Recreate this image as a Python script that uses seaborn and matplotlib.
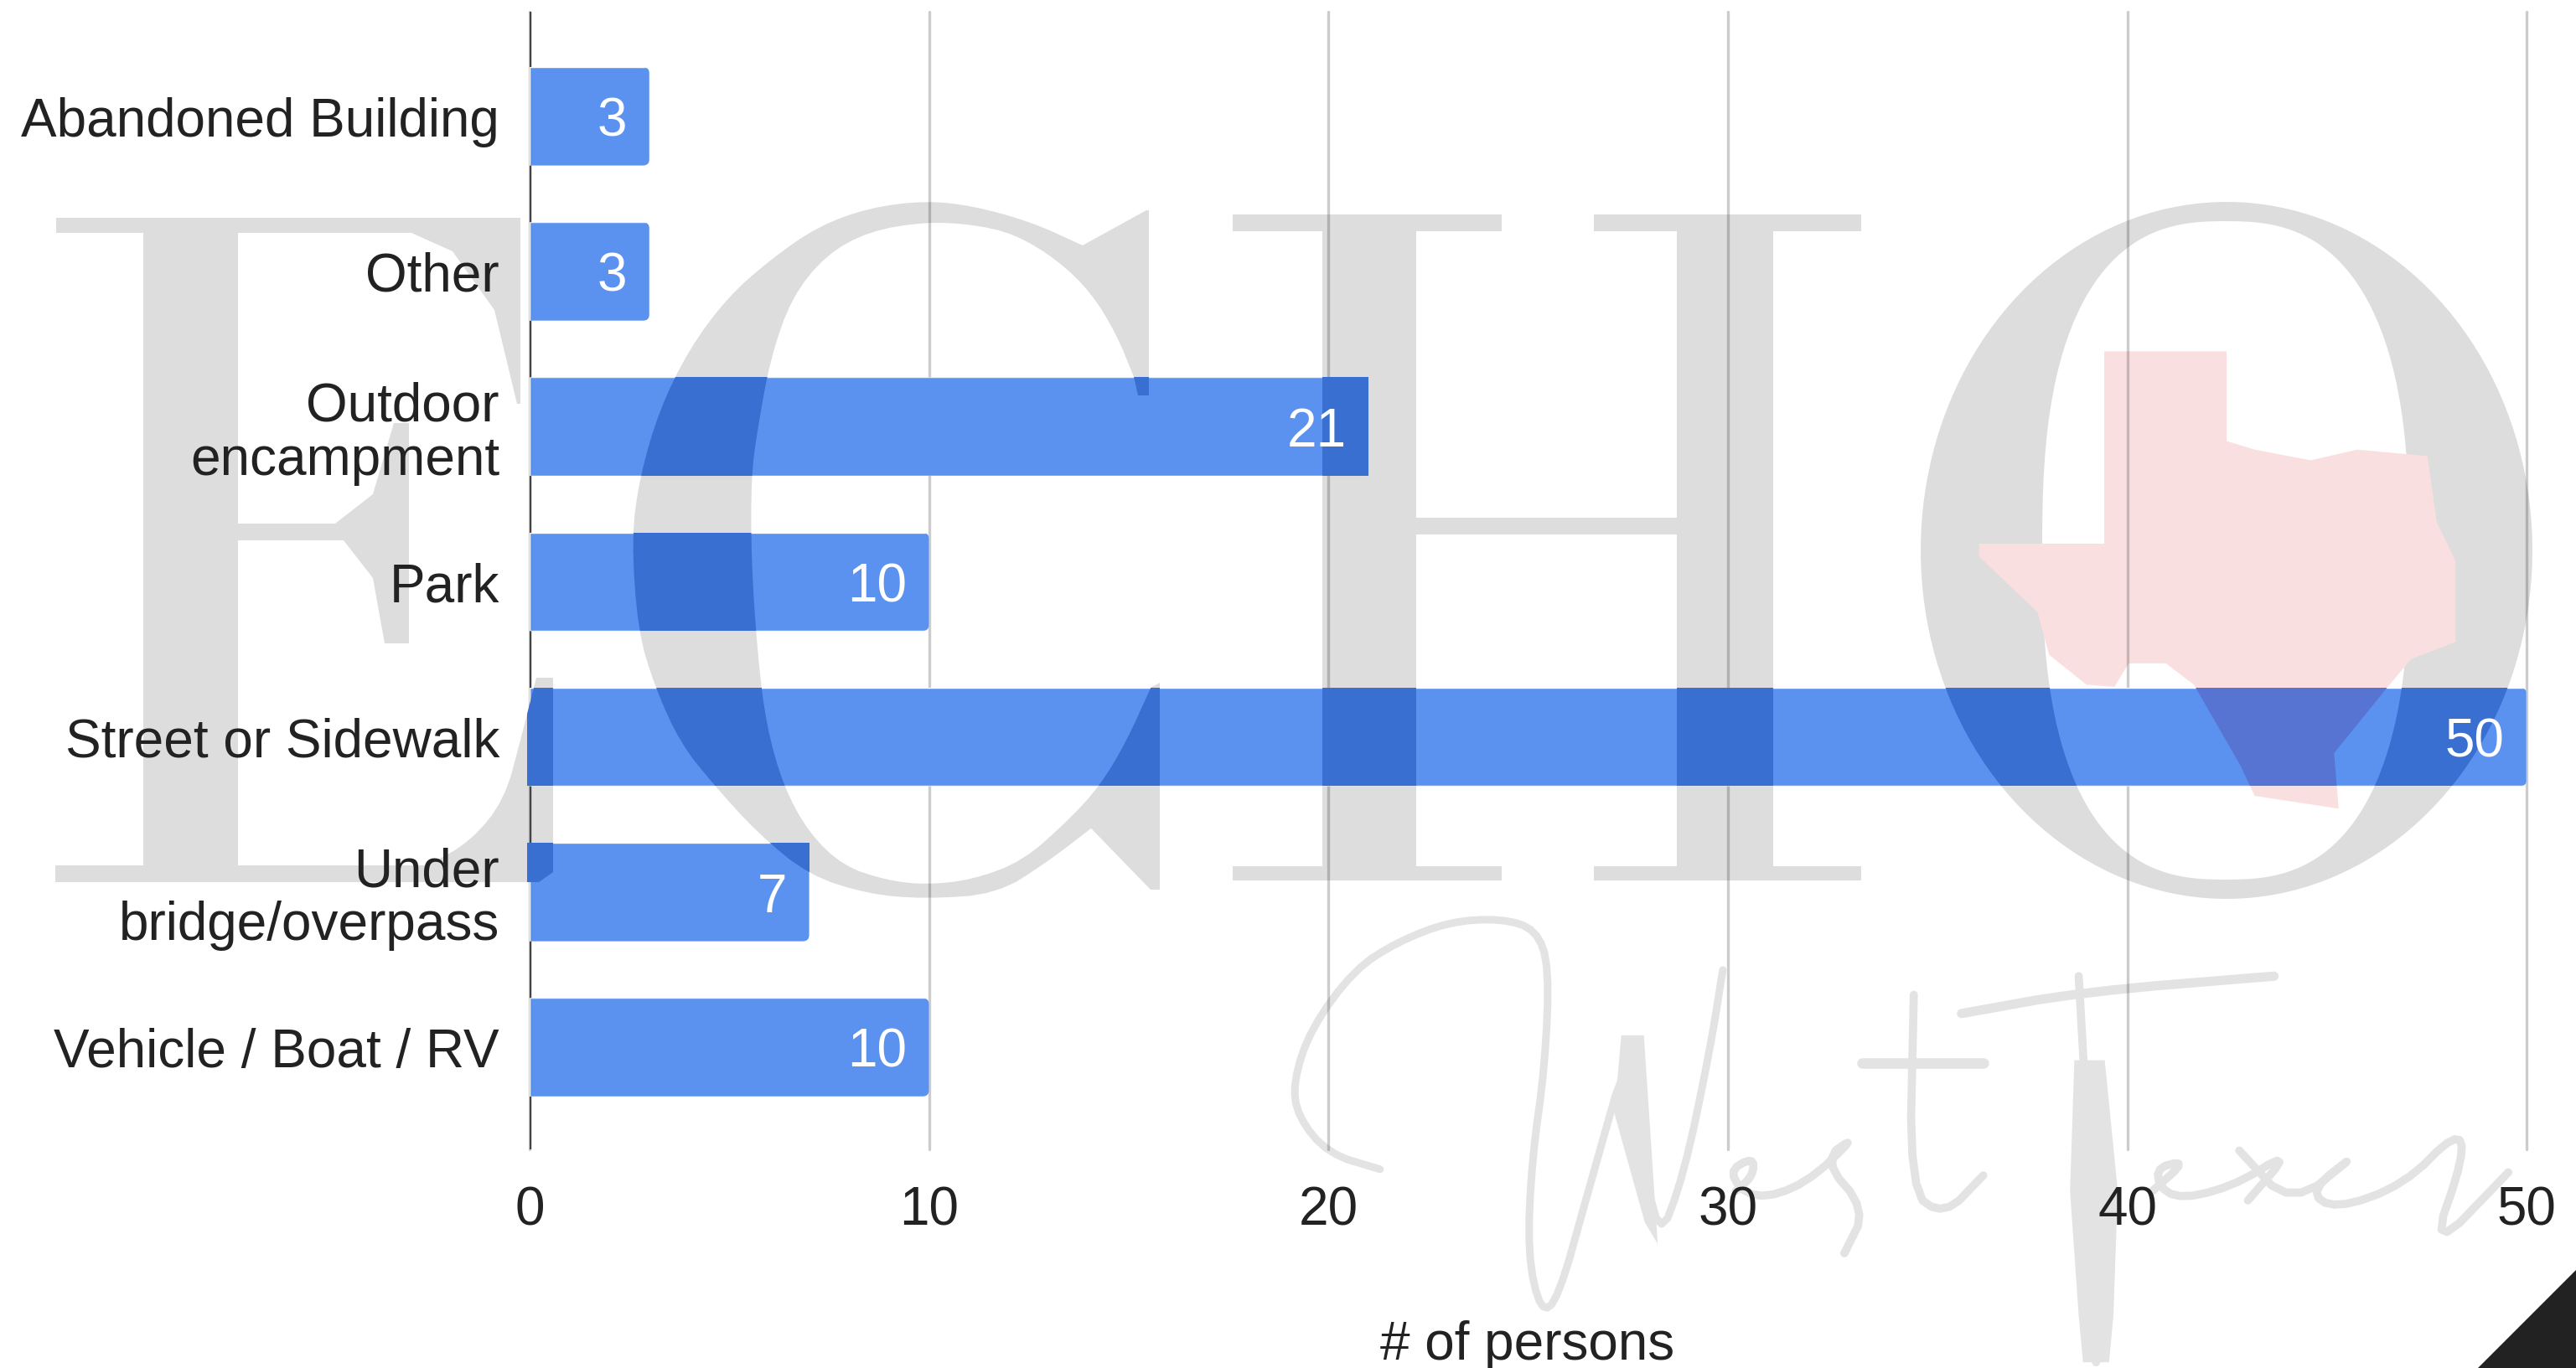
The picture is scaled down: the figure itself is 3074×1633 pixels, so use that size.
import numpy as np
import pandas as pd
import seaborn as sns
import matplotlib.pyplot as plt
from matplotlib.patches import FancyBboxPatch, PathPatch, Polygon, Rectangle
from matplotlib.path import Path
from matplotlib.transforms import IdentityTransform

W, H = 3074, 1633

categories = ["Abandoned Building", "Other", "Outdoor\nencampment", "Park",
              "Street or Sidewalk", "Under\nbridge/overpass", "Vehicle / Boat / RV"]
persons = [3, 3, 21, 10, 50, 7, 10]
x_ticks = [0, 10, 20, 30, 40, 50]

BLUE = "#5b92ef"
TEXT = "#222222"

sns.set_theme(style="white")
plt.rcParams["font.family"] = ["Liberation Sans", "DejaVu Sans"]

fig = plt.figure(figsize=((W + 0.2) / 100, (H + 0.2) / 100), dpi=100, facecolor="white")
ax = fig.add_axes([632 / W, 1 - 1372 / H, (3015 - 632) / W, (1372 - 14) / H])
ax.patch.set_visible(False)

df = pd.DataFrame({"place": categories, "persons": persons})
sns.barplot(data=df, y="place", x="persons", orient="h", color=BLUE, saturation=1,
            width=0.635, ax=ax, zorder=1)
bars = list(ax.patches)

ax.set_xlim(0, 50)
ax.set_ylim(6.658, -0.675)
ax.set_xticks(x_ticks)
ax.set_axisbelow(True)
ax.grid(axis="x", color="black", alpha=0.2, lw=2.4)
for l in ax.get_xgridlines():
    l.set_clip_on(False)
ax.set_ylabel("")
ax.set_xlabel("# of persons", fontsize=46, color=TEXT, labelpad=0)
ax.xaxis.set_label_coords(0.4995, -0.150)
ax.tick_params(axis="y", length=0, pad=26, labelsize=46, labelcolor=TEXT)
ax.tick_params(axis="x", length=0, pad=31, labelsize=46, labelcolor=TEXT)
for lab in ax.get_yticklabels():
    lab.set_linespacing(1.08)
sns.despine(ax=ax, left=True, bottom=True)
ax.axvline(0, color="#444444", lw=2.4, zorder=0.6)

# value labels inside the bars
for bar, v in zip(bars, persons):
    ax.annotate(str(v), (v, bar.get_y() + bar.get_height() / 2), xytext=(-19, 0),
                textcoords="offset points", ha="right", va="center_baseline",
                color="white", fontsize=46, zorder=3)


# watermark: everything below is in pixels measured from the top left
def chaikin(pts, n=2):
    pts = np.array(pts, dtype=float)
    for _ in range(n):
        q = 0.75 * pts[:-1] + 0.25 * pts[1:]
        r = 0.25 * pts[:-1] + 0.75 * pts[1:]
        mid = np.empty((2 * len(q), 2))
        mid[0::2] = q
        mid[1::2] = r
        pts = np.vstack([pts[0], mid, pts[-1]])
    return pts


def shape(pts):
    pts = np.array(pts, dtype=float)
    pts = np.column_stack([pts[:, 0], H - pts[:, 1]])
    return Path(np.vstack([pts, pts[0]]), closed=True)


def crop(pts, x0, y0, sx, sy):
    pts = np.array(pts, dtype=float)
    return np.column_stack([x0 + pts[:, 0] / sx, y0 + pts[:, 1] / sy])


e_curve = chaikin([(510, 1033), (561, 1005), (602, 955), (622, 880), (640, 809)])
e_path = shape([(67, 260), (621, 260), (621, 482), (617, 482), (590, 370), (540, 300), (491, 278),
                (284, 278), (284, 625), (400, 625), (445, 590), (470, 505), (488, 505), (488, 768),
                (459, 768), (445, 690), (410, 645), (284, 645), (284, 1033)]
               + [tuple(p) for p in e_curve]
               + [(660, 809), (660, 1041), (643, 1053), (66, 1053), (66, 1033), (171, 1033),
                  (171, 278), (67, 278)])

c_outer = crop([(1160, 130), (1040, 80), (900, 45), (790, 35), (660, 50), (540, 90), (430, 160),
                (330, 240), (240, 350), (170, 480), (125, 620), (105, 750), (120, 950), (160, 1070),
                (220, 1190), (300, 1280), (400, 1380), (520, 1470), (660, 1510), (790, 1520),
                (960, 1510), (1080, 1440), (1180, 1370)], 700, 220, 1.96, 1.782)
c_inner = crop([(1320, 1070), (1260, 1190), (1200, 1280), (1130, 1350), (1020, 1440), (900, 1480),
                (790, 1490), (700, 1480), (600, 1450), (520, 1380), (460, 1280), (420, 1150),
                (400, 1000), (385, 800), (385, 620), (400, 520), (430, 370), (480, 240), (560, 150),
                (660, 100), (790, 80), (900, 85), (1000, 105), (1100, 160), (1180, 230), (1240, 320),
                (1280, 410)], 700, 220, 1.96, 1.782)
c_path = shape([tuple(p) for p in chaikin(c_outer)]
               + [(1373, 1062), (1384, 1062), (1384, 815)]
               + [tuple(p) for p in chaikin(c_inner)]
               + [(1358, 472), (1371, 472), (1371, 251), (1368, 251)])

h_path = shape([(1471, 256), (1792, 256), (1792, 276), (1690, 276), (1690, 618), (2001, 618), (2001, 276),
                (1902, 276), (1902, 256), (2221, 256), (2221, 276), (2116, 276), (2116, 1034), (2221, 1034),
                (2221, 1051), (1902, 1051), (1902, 1034), (2001, 1034), (2001, 638), (1690, 638),
                (1690, 1034), (1792, 1034), (1792, 1051), (1471, 1051), (1471, 1034), (1578, 1034),
                (1578, 276), (1471, 276)])

# O: ellipse outside, squarer curve inside
t = np.linspace(0, 2 * np.pi, 160)
o_out = np.column_stack([2657 + 365 * np.cos(t), 657 + 416 * np.sin(t)])
o_in = np.column_stack([2656 + 219 * np.sign(np.cos(t[::-1])) * np.abs(np.cos(t[::-1])) ** (2 / 2.6),
                        657 + 393 * np.sign(np.sin(t[::-1])) * np.abs(np.sin(t[::-1])) ** (2 / 2.6)])
o_path = Path.make_compound_path(shape(o_out), shape(o_in))

texas_crop = [(558, 430), (820, 430), (820, 640), (880, 660), (1000, 685), (1100, 660), (1250, 675),
              (1270, 830), (1310, 920), (1310, 1110), (1215, 1150), (1165, 1215), (1050, 1370),
              (1060, 1500), (880, 1470), (850, 1400), (750, 1210), (690, 1160), (610, 1160),
              (580, 1215), (520, 1210), (440, 1140), (415, 1040), (290, 910), (290, 880), (558, 880)]
texas_path = shape(crop(texas_crop, 2200, 200, 1.794, 1.96))

marks = [(e_path, "#dddddd", "#386fd0", 0), (c_path, "#dddddd", "#386fd0", 0), (h_path, "#dddddd", "#386fd0", 0),
         (o_path, "#dddddd", "#386fd0", 0), (texas_path, "#fadfe0", "#5874d2", 0.1)]
for path, color, dark, z in marks:
    ax.add_patch(PathPatch(path, fc=color, ec="none", transform=IdentityTransform(),
                           clip_on=False, zorder=0.1 + z))
    # same shape again, only where it falls on a bar
    for bar in bars:
        (bx0, by0), (bx1, by1) = ax.transData.transform([(bar.get_x(), bar.get_y()),
                                                         (bar.get_x() + bar.get_width(), bar.get_y() + bar.get_height())])
        clip = Rectangle((bx0 - 3, min(by0, by1)), bx1 - bx0 + 3, abs(by1 - by0), transform=IdentityTransform())
        over = PathPatch(path, fc=dark, ec="none", transform=IdentityTransform(), zorder=1.5 + z)
        ax.add_artist(over)
        over.set_clip_path(clip)

# round the right end of the bars
for bar in bars:
    (bx0, by0), (bx1, by1) = ax.transData.transform([(bar.get_x(), bar.get_y()),
                                                     (bar.get_x() + bar.get_width(), bar.get_y() + bar.get_height())])
    bar.set_clip_path(FancyBboxPatch((bx0 - 30, min(by0, by1)), bx1 - bx0 + 30, abs(by1 - by0),
                                     boxstyle="round,pad=0,rounding_size=8", transform=IdentityTransform()))

strokes = [
    ([(190, 930), (130, 880), (95, 760), (90, 650), (110, 480), (160, 290), (210, 200), (270, 135), (330, 125),
      (370, 160), (385, 280), (380, 600), (365, 900), (360, 1200), (375, 1390), (395, 1350), (430, 1000),
      (480, 510), (490, 800), (510, 1170), (540, 950), (570, 550), (585, 290)], 6.5),
    ([(600, 1000), (620, 950), (620, 890), (590, 940), (620, 1030), (680, 980), (740, 820), (700, 900),
      (750, 1060), (725, 1200)], 7),
    ([(805, 370), (800, 1000), (840, 1080), (885, 950)], 7),
    ([(745, 590), (885, 590)], 9),
    ([(860, 430), (1000, 360), (1220, 310)], 8),
    ([(995, 310), (1005, 800), (1015, 1550)], 7),
    ([(1080, 1000), (1120, 900), (1080, 930), (1100, 1030), (1170, 990), (1240, 870), (1190, 1030)], 7),
    ([(1180, 870), (1240, 1050), (1320, 870), (1260, 1000), (1290, 1060), (1370, 980), (1430, 810), (1440, 880),
      (1400, 1200), (1490, 940)], 7),
]
for s, width in strokes:
    s = crop(chaikin(s), 1450, 1050, 0.9655, 2.69)
    ax.plot(s[:, 0], H - s[:, 1], color="#e3e3e3", lw=width, solid_joinstyle="round",
            solid_capstyle="round", transform=IdentityTransform(), clip_on=False, zorder=0.1,
            scalex=False, scaley=False)

# thick parts of the signature
for blob in [[(990, 580), (1025, 580), (1040, 1000), (1035, 1400), (1030, 1550), (1000, 1550), (995, 1400), (985, 1000)],
             [(468, 500), (494, 500), (500, 750), (510, 1170), (495, 1100), (460, 750)]]:
    ax.add_patch(PathPatch(shape(crop(blob, 1450, 1050, 0.9655, 2.69)), fc="#e3e3e3", ec="none",
                           transform=IdentityTransform(), clip_on=False, zorder=0.1))

# dark corner
fig.add_artist(Polygon([(2957, 0), (W + 1, 0), (W + 1, H - 1515)], closed=True, fc="#222222", ec="none",
                       transform=IdentityTransform()))

fig.savefig("out.png", dpi=100)
